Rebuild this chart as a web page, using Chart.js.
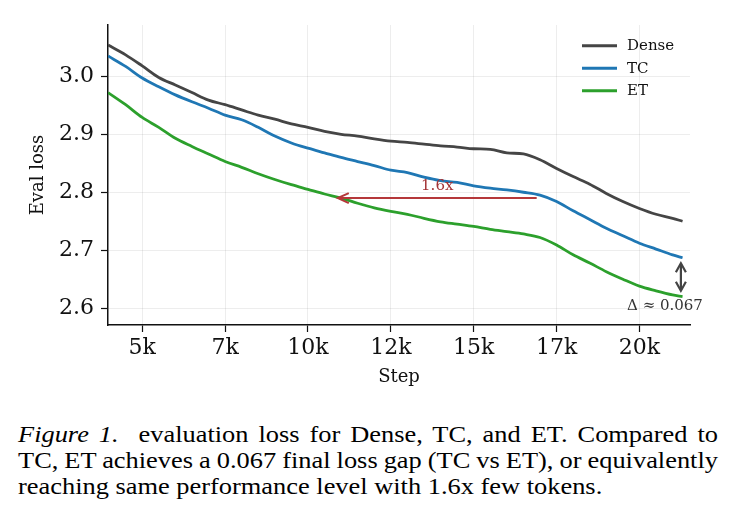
<!DOCTYPE html>
<html><head><meta charset="utf-8">
<script src="https://cdn.jsdelivr.net/npm/chart.js@4.4.1/dist/chart.umd.min.js"></script>
<style>
html,body{margin:0;padding:0;background:#fff;width:736px;height:526px;overflow:hidden;}
#wrap{position:absolute;left:0;top:0;width:736px;height:400px;}
#cap{position:absolute;left:18px;top:420.5px;font-family:"Liberation Serif","Times New Roman",Times,serif;font-size:24px;line-height:26.3px;color:#000;transform:scaleX(1.1);transform-origin:0 0;}
#cap div{white-space:nowrap;}
#cap span{display:inline-block;white-space:pre;}
</style></head><body>
<div id="wrap"><canvas id="c" width="736" height="400"></canvas></div>
<div id="cap">
<div><span data-w="700"><i>Figure 1.</i>  evaluation loss for Dense, TC, and ET. Compared to</span></div>
<div><span data-w="700">TC, ET achieves a 0.067 final loss gap (TC vs ET), or equivalently</span></div>
<div><span>reaching same performance level with 1.6x few tokens.</span></div>
</div>
<script>
const steps = [3970,4500,5000,5500,6000,6500,7000,7500,8000,8500,9000,9500,10000,10500,11000,11500,12000,12500,13000,13500,14000,14500,15000,15500,16000,16500,17000,17500,18000,18500,19000,19500,20000,20500,21000,21300];
const dense = [3.054,3.037,3.018,2.998,2.985,2.972,2.959,2.951,2.942,2.933,2.926,2.918,2.912,2.905,2.900,2.897,2.892,2.888,2.886,2.883,2.880,2.878,2.875,2.874,2.868,2.866,2.856,2.841,2.827,2.814,2.798,2.784,2.772,2.762,2.755,2.750];
const tc = [3.035,3.017,2.997,2.982,2.968,2.956,2.945,2.933,2.925,2.912,2.897,2.885,2.876,2.868,2.860,2.853,2.846,2.838,2.834,2.826,2.820,2.817,2.811,2.807,2.804,2.800,2.795,2.784,2.768,2.753,2.738,2.725,2.712,2.702,2.692,2.687];
const et = [2.972,2.951,2.929,2.912,2.893,2.879,2.866,2.853,2.843,2.832,2.822,2.813,2.805,2.797,2.790,2.781,2.773,2.767,2.762,2.755,2.749,2.745,2.741,2.736,2.732,2.728,2.722,2.709,2.692,2.678,2.663,2.650,2.638,2.630,2.623,2.620];
const seriesNames = ['Dense','TC','ET'];
const seriesColors = ['#454545','#1f77b4','#2ca02c'];
const xTickValues = [5000,7500,10000,12500,15000,17500,20000];
const xTickLabels = ['5k','7k','10k','12k','15k','17k','20k'];
const yTickValues = [2.6,2.7,2.8,2.9,3.0];
const yTickLabels = ['2.6','2.7','2.8','2.9','3.0'];
const xRange = [3968, 21525];
const yRange = [2.571, 3.0885];
const speedup = {fromX:16900, toX:10900, y:2.790, label:'1.6x', labelY:2.8105};
const gap = {x:21250, top:2.6776, bottom:2.630, label:'\u0394 \u2248 0.067', labelX:20770, labelY:2.6028};

// justify caption lines to the reference widths
(function(){
  const scale = 1.1;
  document.querySelectorAll('#cap span[data-w]').forEach(sp=>{
    const avail = parseFloat(sp.dataset.w)/scale;
    const natural = sp.getBoundingClientRect().width/scale;
    const spaces = (sp.textContent.match(/ /g)||[]).length;
    if (spaces) sp.style.wordSpacing = ((avail - natural)/spaces) + 'px';
  });
})();

const SERIF = '"DejaVu Serif", serif';
Chart.defaults.font.family = SERIF;
Chart.defaults.color = '#000';

const seriesData = [dense, tc, et];
const datasets = seriesNames.map((n,i)=>({
  label:n,
  data: steps.map((s,k)=>({x:s,y:seriesData[i][k]})),
  borderColor: seriesColors[i],
  backgroundColor: seriesColors[i],
  borderWidth: 2.8,
  pointRadius: 0,
  cubicInterpolationMode:'monotone',
  fill:false
}));

function arrowHead(ctx, tx, ty, dx, dy, len, half){
  const px = -dy, py = dx;
  ctx.beginPath();
  ctx.moveTo(tx + dx*len + px*half, ty + dy*len + py*half);
  ctx.lineTo(tx, ty);
  ctx.lineTo(tx + dx*len - px*half, ty + dy*len - py*half);
  ctx.stroke();
}

const annot = {
  id:'annot',
  afterDraw(chart){
    const {ctx, chartArea, scales:{x, y}} = chart;
    ctx.save();
    ctx.font = '15px ' + SERIF;
    ctx.textBaseline = 'middle';
    ctx.textAlign = 'left';
    seriesNames.forEach((n,i)=>{
      const ly = chartArea.top + 20.7 + i*22.5;
      const lx = chartArea.right - 108;
      ctx.strokeStyle = seriesColors[i];
      ctx.lineWidth = 3;
      ctx.beginPath(); ctx.moveTo(lx, ly); ctx.lineTo(lx+35, ly); ctx.stroke();
      ctx.fillStyle = '#111';
      ctx.fillText(n, lx+45, ly+0.5);
    });
    const ay = y.getPixelForValue(speedup.y);
    const ax0 = x.getPixelForValue(speedup.fromX);
    const ax1 = x.getPixelForValue(speedup.toX);
    ctx.strokeStyle = '#b5383a';
    ctx.lineWidth = 2;
    ctx.beginPath(); ctx.moveTo(ax0, ay); ctx.lineTo(ax1+1, ay); ctx.stroke();
    arrowHead(ctx, ax1, ay, 1, 0, 11, 5);
    ctx.fillStyle = '#a33336';
    ctx.textAlign = 'center';
    ctx.fillText(speedup.label, x.getPixelForValue((speedup.fromX+speedup.toX)/2), y.getPixelForValue(speedup.labelY));
    const gx = x.getPixelForValue(gap.x);
    const gy0 = y.getPixelForValue(gap.top);
    const gy1 = y.getPixelForValue(gap.bottom);
    ctx.strokeStyle = '#444';
    ctx.lineWidth = 2.2;
    ctx.beginPath(); ctx.moveTo(gx, gy0+1); ctx.lineTo(gx, gy1-1); ctx.stroke();
    arrowHead(ctx, gx, gy0, 0, 1, 9, 5);
    arrowHead(ctx, gx, gy1, 0, -1, 9, 5);
    ctx.fillStyle = '#333';
    ctx.fillText(gap.label, x.getPixelForValue(gap.labelX), y.getPixelForValue(gap.labelY));
    ctx.restore();
  }
};

new Chart(document.getElementById('c'), {
  type:'line',
  data:{datasets},
  options:{
    responsive:false,
    animation:false,
    devicePixelRatio:1,
    layout:{padding:{left:0, top:25, right:46, bottom:12.2}},
    plugins:{legend:{display:false}, tooltip:{enabled:false}},
    scales:{
      x:{
        type:'linear', min:xRange[0], max:xRange[1],
        afterBuildTicks(s){ s.ticks = xTickValues.map(v=>({value:v})); },
        afterFit(s){ s.height = 62.8; },
        ticks:{ callback:(v)=>xTickLabels[xTickValues.indexOf(v)], font:{size:22}, color:'#111', padding:3, maxRotation:0, autoSkip:false },
        grid:{ color:'rgba(0,0,0,0.07)', lineWidth:1, tickColor:'#111', tickLength:7, tickWidth:1.2 },
        border:{ color:'#111', width:1.5 },
        title:{ display:true, text:'Step', font:{size:18}, color:'#111', padding:{top:0,bottom:0} }
      },
      y:{
        type:'linear', min:yRange[0], max:yRange[1],
        afterBuildTicks(s){ s.ticks = yTickValues.map(v=>({value:v})); },
        afterFit(s){ s.width = 108; },
        ticks:{ callback:(v)=>yTickLabels[yTickValues.indexOf(v)], font:{size:22}, color:'#111', padding:7 },
        grid:{ color:'rgba(0,0,0,0.07)', lineWidth:1, tickColor:'#111', tickLength:7, tickWidth:1.2 },
        border:{ color:'#111', width:1.5 },
        title:{ display:true, text:'Eval loss', font:{size:18}, color:'#111', padding:{top:27.2,bottom:0} }
      }
    }
  },
  plugins:[annot]
});
</script>
</body></html>
